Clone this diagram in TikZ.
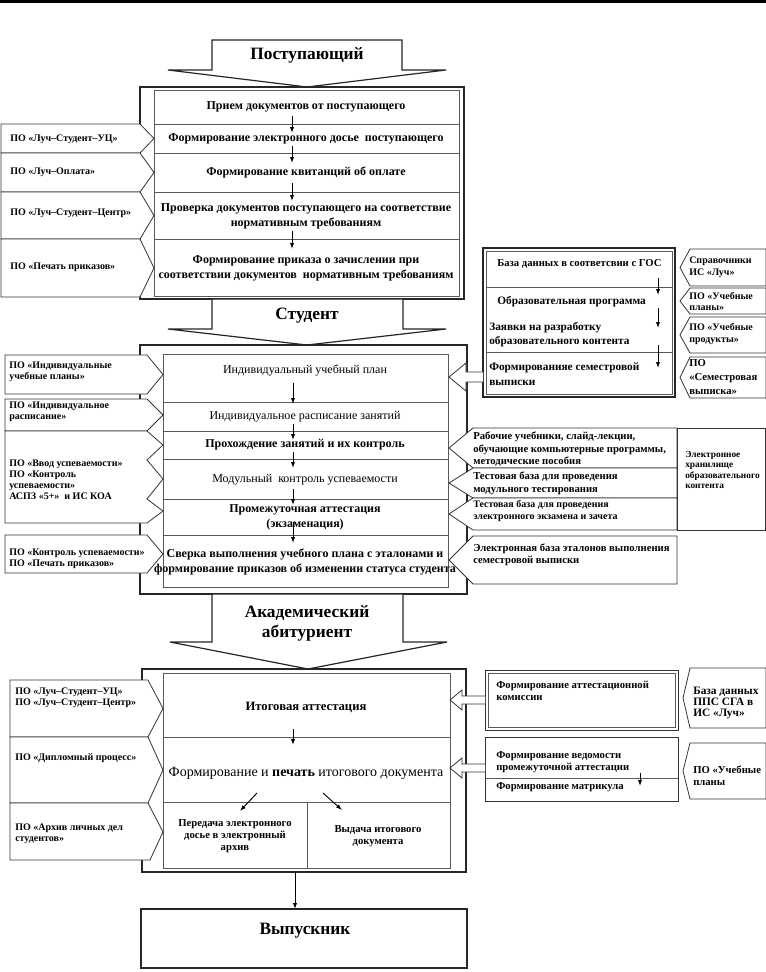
\documentclass[tikz,border=0pt]{standalone}
\usepackage{fontspec}
\setmainfont{Liberation Serif}
\usetikzlibrary{arrows.meta}
\newcommand{\lablr}[5]{\draw[lab] (#1,#2) -- (#4,#2) -- (#5,{(#2+#3)/2}) -- (#4,#3) -- (#1,#3) -- cycle;}
\newcommand{\labrl}[5]{\draw[lab] (#1,#2) -- (#4,#2) -- (#5,{(#2+#3)/2}) -- (#4,#3) -- (#1,#3) -- cycle;}
\newcommand{\varr}[4]{\coordinate (#1s) at (#2,#3); \coordinate (#1e) at (#2,#4); \draw[arr] (#1s) -- (#1e);}
\newcommand{\hollowarr}[6]{\draw[lab] (#1,{#2-#5}) -- (#3,{#2-#5}) -- (#3,{#2-#6}) -- (#4,#2) -- (#3,{#2+#6}) -- (#3,{#2+#5}) -- (#1,{#2+#5});}
\begin{document}
\begin{tikzpicture}[x=0.75pt,y=-0.75pt,
  frameo/.style={draw=black!85, line width=1.1pt},
  framei/.style={draw=black!65, line width=0.5pt},
  lab/.style={draw=black!80, line width=0.6pt, fill=white},
  bigarrow/.style={draw=black!85, line width=0.9pt, fill=white},
  arr/.style={-{Latex[length=4.5pt,width=3.2pt]}, line width=0.7pt},
  tmain/.style={font=\bfseries\fontsize{9}{11.2}\selectfont, align=center, inner sep=0pt},
  treg/.style={font=\fontsize{9}{11.2}\selectfont, align=center, inner sep=0pt},
  tlab/.style={font=\bfseries\fontsize{7.5}{8.5}\selectfont, align=left, anchor=west, inner sep=0pt},
  trl/.style={font=\bfseries\fontsize{8}{9.3}\selectfont, align=left, anchor=west, inner sep=0pt},
  ttr/.style={font=\bfseries\fontsize{7.5}{9}\selectfont, align=left, anchor=west, inner sep=0pt},
  tsmall/.style={font=\bfseries\fontsize{7}{7.6}\selectfont, align=left, anchor=west, inner sep=0pt},
  ttitle/.style={font=\bfseries\fontsize{13}{15}\selectfont, align=center, inner sep=0pt}]
\useasboundingbox (0,0) rectangle (766,972);
\fill[black] (0,0) rectangle (766,3);

% ---------- Поступающий
\draw[bigarrow] (212,40) -- (402,40) -- (402,70) -- (446,70) -- (307,87) -- (168,70) -- (212,70) -- cycle;
\node[ttitle] (t1) at (307,55) {Поступающий};

% ---------- Block 1
\draw[frameo] (140,87) rectangle (464,299);
\draw[framei] (154,90) rectangle (459,296);
\foreach \y in {124,153,192,239} \draw[framei] (154,\y) -- (459,\y);
\node[tmain] (p1) at (306,107) {Прием документов от поступающего};
\node[tmain] (p2) at (306,138.5) {Формирование электронного досье\ \ поступающего};
\node[tmain] (p3) at (306,172) {Формирование квитанций об оплате};
\node[tmain] (p4) at (306,216) {Проверка документов поступающего на соответствие\\нормативным требованиям};
\node[tmain] (p5) at (306,268) {Формирование приказа о зачислении при\\соответствии документов\ \ нормативным требованиям};
\varr{pa1}{292}{116}{133}
\varr{pa2}{292}{146}{163}
\varr{pa3}{292}{183}{201}
\varr{pa4}{292}{231}{249}
\lablr{1}{124}{153}{140}{154}
\lablr{1}{153}{192}{140}{154}
\lablr{1}{192}{239}{140}{154}
\lablr{1}{239}{297}{140}{154}
\node[tlab] (l1) at (10,139) {ПО «Луч–Студент–УЦ»};
\node[tlab] (l2) at (10,172) {ПО «Луч–Оплата»};
\node[tlab] (l3) at (10,213) {ПО «Луч–Студент–Центр»};
\node[tlab] (l4) at (10,267) {ПО «Печать приказов»};

% ---------- Студент
\draw[bigarrow] (212,299) -- (403,299) -- (403,329) -- (446,329) -- (307,345) -- (168,329) -- (212,329) -- cycle;
\node[ttitle] (t2) at (307,316) {Студент};

% ---------- Top-right block
\draw[frameo] (483,248) rectangle (675,397);
\draw[framei] (486,251) rectangle (672,394);
\foreach \y in {287,352} \draw[framei] (486,\y) -- (672,\y);
\node[tmain, anchor=west, align=left, font=\bfseries\fontsize{8}{11}\selectfont] (g1) at (497,264) {База данных в соответсвии с ГОС};
\node[tmain, anchor=west, align=left, font=\bfseries\fontsize{8.5}{11}\selectfont] (g2) at (497,302) {Образовательная программа};
\node[tmain, anchor=west, align=left, font=\bfseries\fontsize{8.5}{11}\selectfont] (g3) at (489,334.5) {Заявки на разработку\\образовательного контента};
\node[tmain, anchor=west, align=left, font=\bfseries\fontsize{8.5}{11}\selectfont] (g4) at (489,374) {Формированияе семестровой\\выписки};
\varr{ga1}{658}{278}{295}
\varr{ga2}{658}{308}{328}
\varr{ga3}{658}{345}{368}
\labrl{766}{249}{286}{690}{680}
\labrl{766}{288}{314}{690}{680}
\labrl{766}{317}{353}{690}{680}
\labrl{766}{357}{398}{690}{680}
\node[ttr] (r1) at (689,267) {Справочники\\ИС «Луч»};
\node[ttr, font=\bfseries\fontsize{7.5}{8.3}\selectfont] (r2) at (689,301) {ПО «Учебные\\планы»};
\node[ttr] (r3) at (689,334) {ПО «Учебные\\продукты»};
\node[ttr, font=\bfseries\fontsize{8}{10.2}\selectfont] (r4) at (689,377) {ПО\\«Семестровая\\выписка»};

% ---------- Block 2
\draw[frameo] (140,345) rectangle (467,594);
\draw[framei] (163,354) rectangle (448,587);
\foreach \y in {402,431,459,499,535} \draw[framei] (163,\y) -- (448,\y);
\node[treg] (s1) at (305,370) {Индивидуальный учебный план};
\node[treg] (s2) at (305,417) {Индивидуальное расписание занятий};
\node[tmain] (s3) at (305,445) {Прохождение занятий и их контроль};
\node[treg] (s4) at (305,480) {Модульный\ \ контроль успеваемости};
\node[tmain] (s5) at (305,517) {Промежуточная аттестация\\(экзаменация)};
\node[tmain] (s6) at (305,562) {Сверка выполнения учебного плана с эталонами и\\формирование приказов об изменении статуса студента};
\varr{sa1}{293}{383}{404}
\varr{sa2}{293}{424}{440}
\varr{sa3}{293}{452}{468}
\varr{sa4}{293}{489}{505}
\varr{sa5}{293}{522}{543}
% left labels
\lablr{5}{355}{394}{147}{163}
\lablr{5}{399}{431}{147}{163}
\draw[lab] (5,431) -- (147,431) -- (163,445) -- (147,460) -- (163,479) -- (147,499) -- (163,511) -- (147,523) -- (5,523) -- cycle;
\lablr{5}{535}{573}{147}{163}
\node[tlab] (m1) at (9,371.5) {ПО «Индивидуальные\\учебные планы»};
\node[tlab] (m2) at (9,412) {ПО «Индивидуальное\\расписание»};
\node[tlab, font=\bfseries\fontsize{7.5}{8.3}\selectfont] (m3) at (9,479.5) {ПО «Ввод успеваемости»\\ПО «Контроль\\успеваемости»\\АСПЗ «5+»\ \ и ИС КОА};
\node[tlab] (m4) at (9,559) {ПО «Контроль успеваемости»\\ПО «Печать приказов»};
% hollow arrow from top-right block
\hollowarr{483}{377}{466}{449}{5}{14}
% right labels
\labrl{677}{428}{468}{473}{449}
\labrl{677}{468}{498}{473}{449}
\labrl{677}{498}{530}{473}{449}
\labrl{677}{536}{584}{473}{449}
\draw[lab] (677,428) rectangle (765,530);
\node[trl] (e1) at (473,449.5) {Рабочие учебники, слайд-лекции,\\обучающие компьютерные программы,\\методические пособия};
\node[trl] (e2) at (473,483.5) {Тестовая база для проведения\\модульного тестирования};
\node[trl, font=\bfseries\fontsize{7.5}{9}\selectfont] (e3) at (473,511) {Тестовая база для проведения\\электронного экзамена и зачета};
\node[trl] (e4) at (473,555) {Электронная база эталонов выполнения\\семестровой выписки};
\node[tsmall] (e5) at (685,470) {Электронное\\хранилище\\образовательного\\контента};

% ---------- Академический абитуриент
\draw[bigarrow] (212,594) -- (403,594) -- (403,642) -- (447,642) -- (308,669) -- (170,642) -- (212,642) -- cycle;
\node[ttitle] (t3) at (307,623) {Академический\\абитуриент};

% ---------- Block 3
\draw[frameo] (142,669) rectangle (466,872);
\draw[framei] (163,673) rectangle (450,868);
\foreach \y in {737,802} \draw[framei] (163,\y) -- (450,\y);
\draw[framei] (307,802) -- (307,868);
\node[tmain, font=\bfseries\fontsize{9.5}{11}\selectfont] (f1) at (306,707) {Итоговая аттестация};
\node[treg, font=\fontsize{10.5}{12}\selectfont] (f2) at (306,773) {Формирование и \textbf{печать} итогового документа};
\node[tmain, font=\bfseries\fontsize{8}{9}\selectfont] (f3) at (235,836) {Передача электронного\\досье в электронный\\архив};
\node[tmain, font=\bfseries\fontsize{8}{9.5}\selectfont] (f4) at (378,836) {Выдача итогового\\документа};
\varr{fa1}{293}{729}{745}
\coordinate (fd1s) at (257,793); \coordinate (fd1e) at (240,811);
\draw[arr] (fd1s) -- (fd1e);
\coordinate (fd2s) at (323,793); \coordinate (fd2e) at (342,810);
\draw[arr] (fd2s) -- (fd2e);
\lablr{10}{680}{737}{148}{163}
\lablr{10}{737}{803}{148}{163}
\draw[lab] (10,803) -- (148,803) -- (163,832) -- (150,860) -- (10,860) -- cycle;
\node[tlab] (k1) at (15,698) {ПО «Луч–Студент–УЦ»\\ПО «Луч–Студент–Центр»};
\node[tlab] (k2) at (15,758) {ПО «Дипломный процесс»};
\node[tlab] (k3) at (15,834) {ПО «Архив личных дел\\студентов»};
% right boxes
\draw[lab] (485,670) rectangle (678,730);
\draw[framei] (488,673) rectangle (675,727);
\node[trl] (c1) at (496,691) {Формирование аттестационной\\комиссии};
\draw[lab] (485,737) rectangle (678,801);
\draw[framei] (485,778) -- (678,778);
\node[trl] (c2) at (496,762) {Формирование ведомости\\промежуточной аттестации};
\node[trl] (c3) at (496,787) {Формирование матрикула};
\varr{ca1}{640}{773}{786}
\hollowarr{485}{700}{462}{450}{4}{10}
\hollowarr{485}{768}{462}{450}{4}{10}
\labrl{766}{668}{728}{690}{683}
\labrl{766}{743}{799}{690}{683}
\node[trl, font=\bfseries\fontsize{8.5}{8.5}\selectfont] (c4) at (693,703) {База данных\\ППС СГА в\\ИС «Луч»};
\node[trl] (c5) at (693,776) {ПО «Учебные\\планы};

% ---------- Выпускник
\draw[frameo] (141,909) rectangle (467,968);
\node[ttitle] (v) at (305,931) {Выпускник};
\coordinate (b3bot) at (295,872);
\coordinate (vtop) at (295,909);
\draw[arr] (b3bot) -- (vtop);
\end{tikzpicture}
\end{document}
